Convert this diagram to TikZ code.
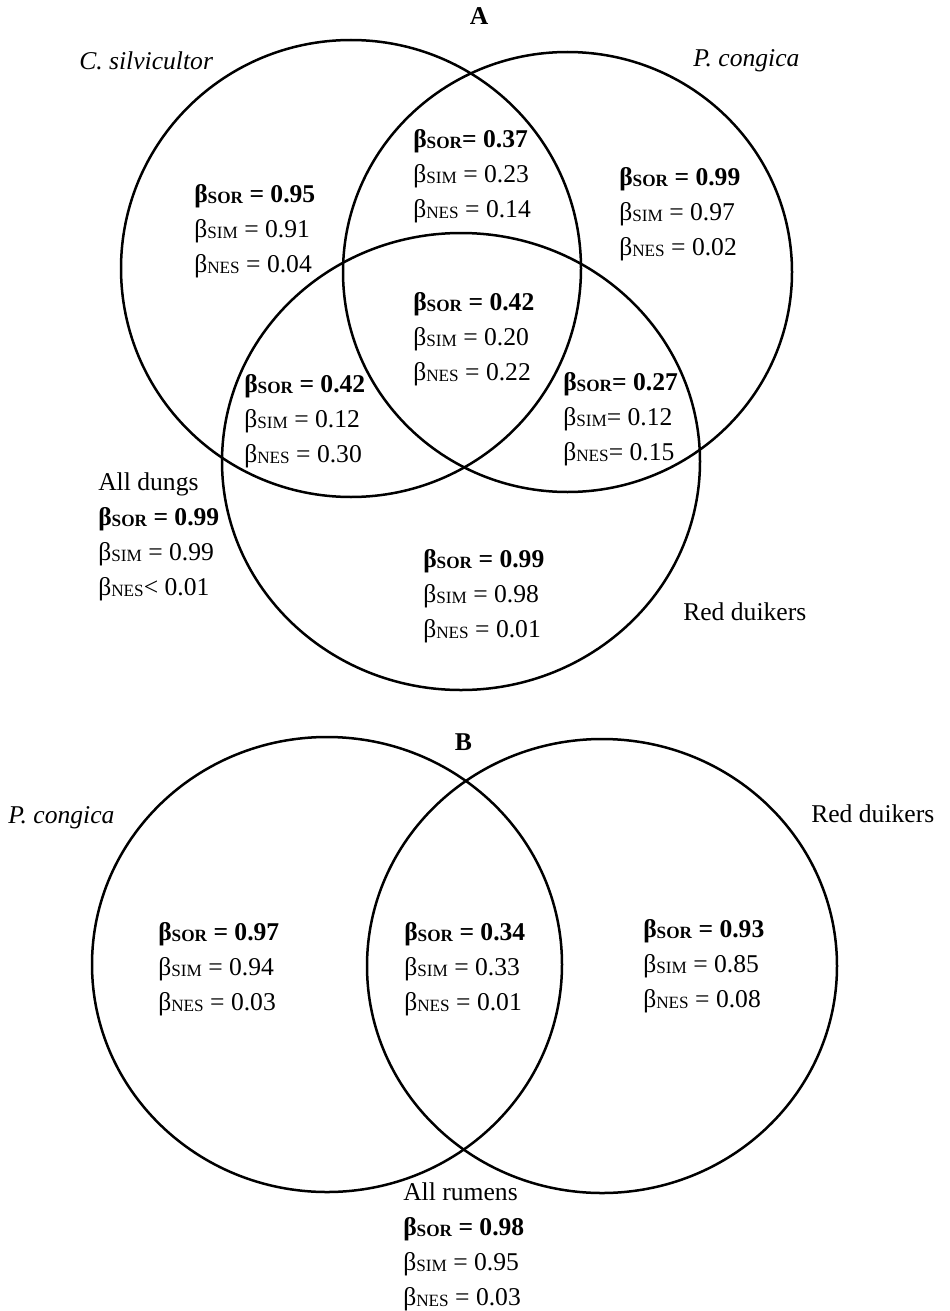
\documentclass[tikz,border=0pt]{standalone}
\usepackage{fontspec}
\setmainfont{Liberation Serif}
\usetikzlibrary{positioning}
\newcommand{\bsub}[1]{β\raisebox{-0.6pt}{\fontsize{8.6}{8.6}\selectfont #1}}

\begin{document}
\begin{tikzpicture}[x=0.5pt, y=-0.5pt, line width=1.25pt,
    vals/.style={align=left, anchor=base west, inner sep=0pt,
      font=\fontsize{12.8}{17.4}\selectfont},
    spec/.style={anchor=base west, inner sep=0pt, font=\fontsize{12.8}{17.4}\selectfont\itshape},
    panel/.style={anchor=base, inner sep=0pt, font=\fontsize{12.8}{17.4}\selectfont\bfseries}]
  \useasboundingbox (0,0) rectangle (949,1311);

  % Panel A: dungs
  \draw (351,268.5) ellipse [x radius=115pt, y radius=114.25pt];
  \draw (567.5,272) ellipse [x radius=112.25pt, y radius=110pt];
  \draw (461,461.5) ellipse [x radius=119.5pt, y radius=114.25pt];

  \node[panel] (labA) at (479,25) {A};
  \node[spec] (silv) at (78,70) {C. silvicultor};
  \node[spec] (cong) at (692,67) {P. congica};
  \node[vals] (duik) at (682,620) {Red duikers};

  % multi-line nodes sit on their last baseline
  \node[vals] (cOnly) at (193,272) {\textbf{\bsub{SOR} = 0.95}\\\bsub{SIM} = 0.91\\\bsub{NES} = 0.04};
  \node[vals] (cp) at (412,217) {\textbf{\bsub{SOR}= 0.37}\\\bsub{SIM} = 0.23\\\bsub{NES} = 0.14};
  \node[vals] (pOnly) at (618,255) {\textbf{\bsub{SOR} = 0.99}\\\bsub{SIM} = 0.97\\\bsub{NES} = 0.02};
  \node[vals] (cpr) at (412,380) {\textbf{\bsub{SOR} = 0.42}\\\bsub{SIM} = 0.20\\\bsub{NES} = 0.22};
  \node[vals] (cr) at (243,462) {\textbf{\bsub{SOR} = 0.42}\\\bsub{SIM} = 0.12\\\bsub{NES} = 0.30};
  \node[vals] (pr) at (562,460) {\textbf{\bsub{SOR}= 0.27}\\\bsub{SIM}= 0.12\\\bsub{NES}= 0.15};
  \node[vals] (rOnly) at (422,637) {\textbf{\bsub{SOR} = 0.99}\\\bsub{SIM} = 0.98\\\bsub{NES} = 0.01};
  \node[vals] (dungs) at (97,595) {All dungs\\\textbf{\bsub{SOR} = 0.99}\\\bsub{SIM} = 0.99\\\bsub{NES}< 0.01};

  % Panel B: rumens
  \draw (327,964.5) ellipse [x radius=117.5pt, y radius=113.75pt];
  \draw (602,966) ellipse [x radius=117.5pt, y radius=113.5pt];

  \node[panel] (labB) at (463.5,750) {B};
  \node[spec] (congB) at (7,823) {P. congica};
  \node[vals] (duikB) at (810,822) {Red duikers};

  \node[vals] (pB) at (157,1010) {\textbf{\bsub{SOR} = 0.97}\\\bsub{SIM} = 0.94\\\bsub{NES} = 0.03};
  \node[vals] (prB) at (403,1010) {\textbf{\bsub{SOR} = 0.34}\\\bsub{SIM} = 0.33\\\bsub{NES} = 0.01};
  \node[vals] (rB) at (642,1007) {\textbf{\bsub{SOR} = 0.93}\\\bsub{SIM} = 0.85\\\bsub{NES} = 0.08};
  \node[vals] (rumens) at (402,1305) {All rumens\\\textbf{\bsub{SOR} = 0.98}\\\bsub{SIM} = 0.95\\\bsub{NES} = 0.03};
\end{tikzpicture}
\end{document}
